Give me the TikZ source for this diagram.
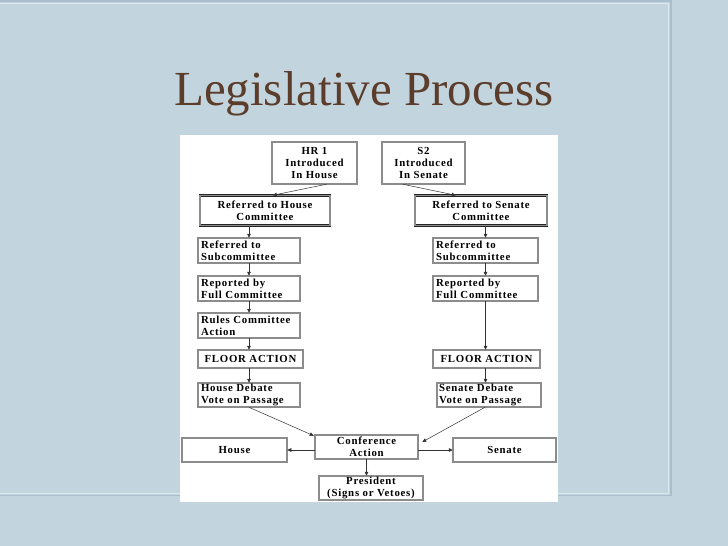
\documentclass[tikz,border=0pt]{standalone}
\usepackage{fontspec}
\newfontfamily\boxfont[LetterSpace=7]{Liberation Serif}
\newfontfamily\titlefont{Liberation Serif}
\usetikzlibrary{positioning, arrows.meta, calc}
\definecolor{slidebg}{RGB}{194,213,223}
\definecolor{slideline}{RGB}{170,191,203}
\definecolor{titlebrown}{RGB}{92,60,42}

\begin{document}
\begin{tikzpicture}[x=1pt, y=-1pt, >={Triangle[length=4pt, width=3.6pt]},
    stage/.style={draw=black!85, double=black!45, double distance=1.1pt, line width=0.5pt,
      fill=white, inner sep=0pt, align=center,
      font=\boxfont\bfseries\fontsize{10.8}{11.8}\selectfont},
    lstage/.style={stage, align=left},
    arr/.style={->, draw=black!80, line width=0.5pt}]
  % slide
  \useasboundingbox[fill=slidebg] (0,0) rectangle (728,546);
  \draw[slideline, line width=1.2pt] (-2,1) -- (671,1) -- (671,495.5) -- (-2,495.5);
  \draw[white!45!slidebg, line width=0.6pt] (-2,3) -- (668.6,3) -- (668.6,493.2) -- (-2,493.2);
  \node[anchor=base, text=titlebrown, font=\titlefont\fontsize{49}{52}\selectfont] (title) at (364,105) {Legislative Process};
  \fill[white] (180,135) rectangle (558,502);

  % house side
  \node (hr) [stage, minimum width=85pt, minimum height=42pt] at (314.5,163) {HR 1\\Introduced\\In House};
  \node (hcom) [stage, minimum width=130pt, minimum height=30pt] at (265,210.5) {Referred to House\\Committee};
  \node (hsub) [lstage, minimum width=102pt, minimum height=25pt, text width=96pt] at (249,250.5) {Referred to\\Subcommittee};
  \node (hrep) [lstage, minimum width=102pt, minimum height=25pt, text width=96pt] at (249,288.5) {Reported by\\Full Committee};
  \node (hrules) [lstage, minimum width=102pt, minimum height=25pt, text width=96pt] at (249,325.5) {Rules Committee\\Action};
  \node (hfloor) [stage, minimum width=105pt, minimum height=18pt] at (250.5,359) {FLOOR ACTION};
  \node (hdeb) [lstage, minimum width=102pt, minimum height=24pt, text width=96pt] at (249,395) {House Debate\\Vote on Passage};

  % senate side
  \node (s2) [stage, minimum width=83pt, minimum height=42pt] at (423.5,163) {S2\\Introduced\\In Senate};
  \node (scom) [stage, minimum width=132pt, minimum height=30pt] at (481,210.5) {Referred to Senate\\Committee};
  \node (ssub) [lstage, minimum width=105pt, minimum height=25pt, text width=99pt] at (485.5,250.5) {Referred to\\Subcommittee};
  \node (srep) [lstage, minimum width=105pt, minimum height=25pt, text width=99pt] at (485.5,288.5) {Reported by\\Full Committee};
  \node (sfloor) [stage, minimum width=107pt, minimum height=18pt] at (486.5,359) {FLOOR ACTION};
  \node (sdeb) [lstage, minimum width=104pt, minimum height=24pt, text width=100pt] at (489,395) {Senate Debate\\Vote on Passage};

  % bottom row
  \node (house) [stage, minimum width=105pt, minimum height=24pt] at (234.5,450) {House};
  \node (conf) [stage, minimum width=103pt, minimum height=24pt] at (366.5,447) {Conference\\Action};
  \node (senate) [stage, minimum width=103pt, minimum height=24pt] at (504.5,450) {Senate};
  \node (pres) [stage, minimum width=104pt, minimum height=24pt] at (371,488) {President\\(Signs or Vetoes)};

  % connectors
  \draw[arr] ($(hr.south)+(12,0)$) -- ($(hcom.north west)+(73,0)$);
  \draw[arr] ($(s2.south west)+(21,0)$) -- ($(scom.north west)+(41,0)$);
  \draw[arr] (hcom.south -| hsub.north) -- (hsub.north);
  \draw[arr] (hsub.south) -- (hrep.north);
  \draw[arr] (hrep.south) -- (hrules.north);
  \draw[arr] (hrules.south) -- (hrules.south |- hfloor.north);
  \draw[arr] (hrules.south |- hfloor.south) -- (hdeb.north);
  \draw[arr] (scom.south -| ssub.north) -- (ssub.north);
  \draw[arr] (ssub.south) -- (srep.north);
  \draw[arr] (srep.south) -- (srep.south |- sfloor.north);
  \draw[arr] (srep.south |- sfloor.south) -- (srep.south |- sdeb.north);
  \draw[arr] (hdeb.south) -- ($(conf.north west)+(-1,1)$);
  \draw[arr] ($(sdeb.south)+(-4,0)$) -- ($(conf.east)+(4,-5)$);
  \draw[arr] (conf.west |- house) -- (house.east);
  \draw[arr] (conf.east |- senate) -- (senate.west);
  \draw[arr] (conf.south) -- (conf.south |- pres.north);
\end{tikzpicture}
\end{document}
